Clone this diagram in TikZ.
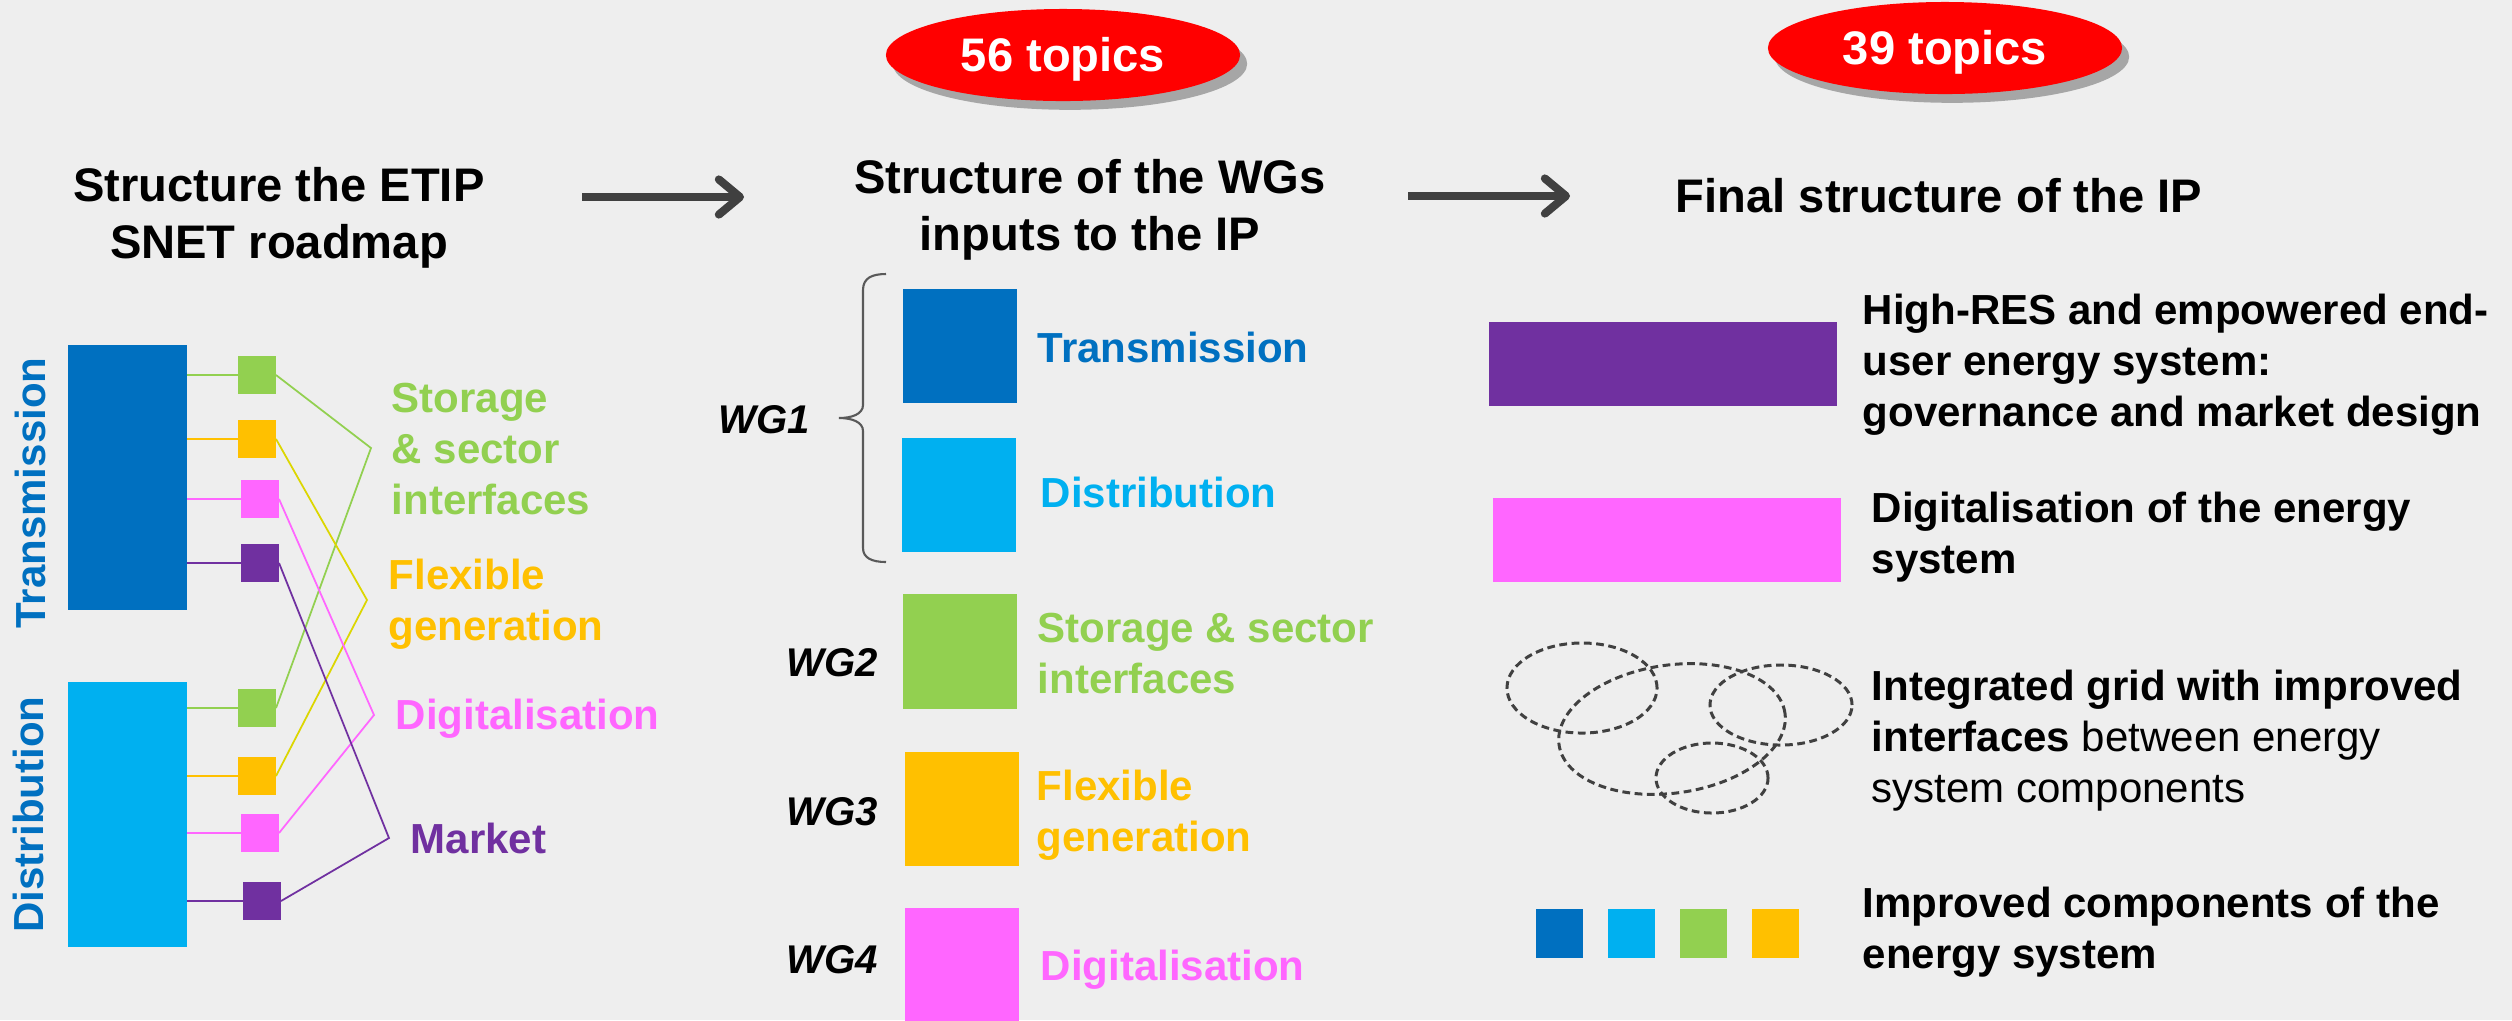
\documentclass[tikz,border=0pt]{standalone}
\usepackage{fontspec}
\setmainfont{Liberation Sans}
\usetikzlibrary{arrows.meta,shadows,shapes.geometric}
\definecolor{bgc}{HTML}{EEEEEE}
\definecolor{cblue}{HTML}{0070C0}
\definecolor{clblue}{HTML}{00B0F0}
\definecolor{cgreen}{HTML}{92D050}
\definecolor{corange}{HTML}{FFC000}
\definecolor{cyel}{HTML}{DCD600}
\definecolor{cpink}{HTML}{FF66FF}
\definecolor{cpurple}{HTML}{7030A0}
\definecolor{cred}{HTML}{FF0000}
\definecolor{cdark}{HTML}{404040}
\definecolor{cbrace}{HTML}{595959}
\begin{document}
\begin{tikzpicture}[x=0.01cm,y=-0.01cm,
  plainbox/.style={draw=none, inner sep=0pt, outer sep=0pt},
  sq/.style={plainbox, minimum width=0.38cm, minimum height=0.38cm},
  midsq/.style={plainbox, minimum width=1.14cm, minimum height=1.14cm},
  head/.style={font=\fontsize{13.4}{16.2}\selectfont\bfseries, align=center, anchor=base, inner sep=0pt},
  lab/.style={font=\fontsize{11.95}{14.5}\selectfont\bfseries, align=left, anchor=base west, inner sep=0pt},
  vlab/.style={font=\fontsize{11.95}{14.5}\selectfont\bfseries, anchor=base, rotate=90, inner sep=0pt, text=cblue},
  rlab/.style={font=\fontsize{11.95}{14.4}\selectfont, align=left, anchor=base west, inner sep=0pt},
  rlabb/.style={rlab, font=\fontsize{11.95}{14.4}\selectfont\bfseries},
  wg/.style={font=\fontsize{11.4}{13}\selectfont\bfseries\itshape, anchor=base west, inner sep=0pt},
  topics/.style={ellipse, fill=cred, text=white, minimum width=3.54cm, minimum height=0.92cm, inner sep=0pt,
    font=\fontsize{13.4}{15}\selectfont\bfseries, text height=9.6pt, text depth=0pt,
    drop shadow={shadow xshift=2pt, shadow yshift=-2.5pt, fill=black, opacity=0.3}},
  flow/.style={draw=cdark, line width=2.3pt, -{Straight Barb[round, length=6pt, width=10pt]}},
  wire/.style={line width=0.5pt},
  ringline/.style={draw=cdark, line width=0.85pt, dash pattern=on 2.2pt off 1.3pt},
  bracel/.style={draw=cbrace, line width=0.6pt},
]
\useasboundingbox (0,0) rectangle (2512,1020);
\fill[bgc] (0,0) rectangle (2512,1020);
\clip (0,0) rectangle (2512,1020);

% ---------- left column ----------
\node[head] (H1) at (279,258) {Structure the ETIP\\SNET roadmap};
\node[plainbox, fill=cblue, minimum width=1.19cm, minimum height=2.65cm] (TL) at (127.5,477.5) {};
\node[plainbox, fill=clblue, minimum width=1.19cm, minimum height=2.65cm] (DL) at (127.5,814.5) {};
\node[vlab] (TLt) at (45,493) {Transmission};
\node[vlab] (DLt) at (43,814.5) {Distribution};

\node[sq, fill=cgreen]  (g1) at (257,375) {};
\node[sq, fill=corange] (o1) at (257,439) {};
\node[sq, fill=cpink]   (p1) at (260,499) {};
\node[sq, fill=cpurple] (m1) at (260,563) {};
\node[sq, fill=cgreen]  (g2) at (257,708) {};
\node[sq, fill=corange] (o2) at (257,776) {};
\node[sq, fill=cpink]   (p2) at (260,833) {};
\node[sq, fill=cpurple] (m2) at (262,901) {};

\foreach \s/\c in {g1/cgreen,o1/corange,p1/cpink,m1/cpurple}
  \draw[wire,\c] (TL.east |- \s.west) -- (\s.west);
\foreach \s/\c in {g2/cgreen,o2/corange,p2/cpink,m2/cpurple}
  \draw[wire,\c] (DL.east |- \s.west) -- (\s.west);

\coordinate (jg) at (371,448);
\coordinate (jo) at (367,600);
\coordinate (jp) at (374,715);
\coordinate (jm) at (389,838);
\draw[wire,cgreen]  (g1.east) -- (jg) -- (g2.east);
\draw[wire,cyel]    (o1.east) -- (jo) -- (o2.east);
\draw[wire,cpink]   (p1.east) -- (jp) -- (p2.east);
\draw[wire,cpurple] (m1.east) -- (jm) -- (m2.east);

\node[lab, text=cgreen]  (Lg) at (391,514) {Storage\\\& sector\\interfaces};
\node[lab, text=corange] (Lo) at (388,640) {Flexible\\generation};
\node[lab, text=cpink]   (Lp) at (395,729) {Digitalisation};
\node[lab, text=cpurple] (Lm) at (410,853) {Market};

\coordinate (a1s) at (582,197);
\coordinate (a1e) at (744,197);
\draw[flow] (a1s) -- (a1e);

% ---------- middle column ----------
\node[topics] (T56) at (1063,55) {56 topics};
\node[head] (H2) at (1090,250) {Structure of the WGs\\inputs to the IP};

\node[midsq, fill=cblue]   (Tm) at (960,346) {};
\node[midsq, fill=clblue]  (Dm) at (959,495) {};
\node[midsq, fill=cgreen]  (Gm) at (960,651.5) {};
\node[midsq, fill=corange] (Om) at (962,809) {};
\node[midsq, fill=cpink, minimum height=1.16cm] (Pm) at (962,966) {};

\node[lab, text=cblue]   (Tmt) at (1037,362) {Transmission};
\node[lab, text=clblue]  (Dmt) at (1040,507) {Distribution};
\node[lab, text=cgreen]  (Gmt) at (1037,693) {Storage \& sector\\interfaces};
\node[lab, text=corange] (Omt) at (1036,851) {Flexible\\generation};
\node[lab, text=cpink]   (Pmt) at (1040,980) {Digitalisation};

\node[wg] (W1) at (718,433) {WG1};
\node[wg] (W2) at (786,676) {WG2};
\node[wg] (W3) at (786,825) {WG3};
\node[wg] (W4) at (786,973) {WG4};

\draw[bracel] (886,274) .. controls (872,274) and (863,278) .. (863,290) -- (863,405)
  .. controls (863,414) and (852,418) .. (839,418)
  .. controls (852,418) and (863,422) .. (863,431) -- (863,548)
  .. controls (863,558) and (872,562) .. (886,562);

\coordinate (a2s) at (1408,196);
\coordinate (a2e) at (1570,196);
\draw[flow] (a2s) -- (a2e);

% ---------- right column ----------
\node[topics] (T39) at (1945,48) {39 topics};
\node[head] (H3) at (1939,212) {Final structure of the IP};

\node[plainbox, fill=cpurple, minimum width=3.48cm, minimum height=0.84cm] (Rb1) at (1663,364) {};
\node[plainbox, fill=cpink, minimum width=3.48cm, minimum height=0.84cm] (Rb2) at (1667,540) {};
\node[rlabb] (Rt1) at (1862,426) {High-RES and empowered end-\\user energy system:\\governance and market design};
\node[rlabb] (Rt2) at (1871,573) {Digitalisation of the energy\\system};

\draw[ringline] (1582,688) ellipse [x radius=0.75cm, y radius=0.45cm];
\draw[ringline, rotate around={8:(1672,729)}] (1672,729) ellipse [x radius=1.14cm, y radius=0.64cm];
\draw[ringline] (1781,705) ellipse [x radius=0.71cm, y radius=0.40cm];
\draw[ringline] (1712,778) ellipse [x radius=0.56cm, y radius=0.35cm];
\node[rlab] (Rt3) at (1871,802) {\textbf{Integrated grid with improved}\\\textbf{interfaces} between energy\\system components};

\node[plainbox, fill=cblue,   minimum width=0.47cm, minimum height=0.49cm] (c1) at (1559.5,933) {};
\node[plainbox, fill=clblue,  minimum width=0.47cm, minimum height=0.49cm] (c2) at (1631.5,933) {};
\node[plainbox, fill=cgreen,  minimum width=0.47cm, minimum height=0.49cm] (c3) at (1703.5,933) {};
\node[plainbox, fill=corange, minimum width=0.47cm, minimum height=0.49cm] (c4) at (1775.5,933) {};
\node[rlabb] (Rt4) at (1862,968) {Improved components of the\\energy system};
\end{tikzpicture}
\end{document}
